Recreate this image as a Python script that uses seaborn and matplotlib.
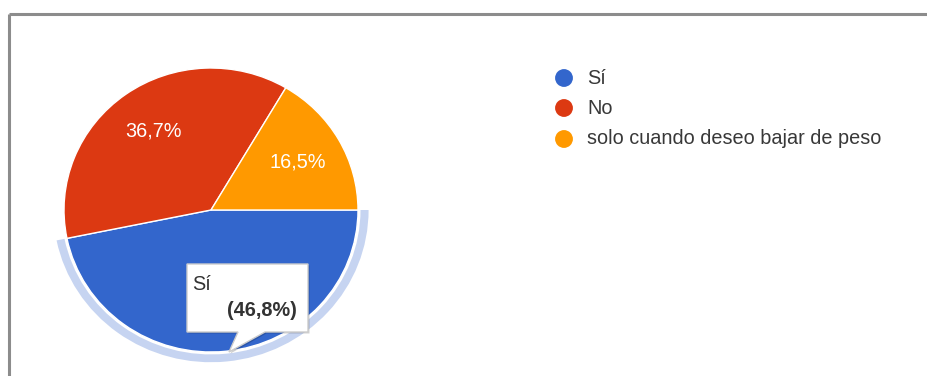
import matplotlib
matplotlib.use("Agg")
import matplotlib.pyplot as plt
import numpy as np
import seaborn as sns
from matplotlib.patches import Wedge, Polygon

# Survey answers and their shares (%)
categories = ["Sí", "No", "solo cuando deseo bajar de peso"]
shares = [46.8, 36.7, 16.5]
pct_labels = ["46,8%", "36,7%", "16,5%"]
hex_colors = ["#3366cc", "#dc3912", "#ff9900"]

sns.set_theme(style="white")
plt.rcParams["font.family"] = ["Liberation Sans", "DejaVu Sans"]
palette = sns.color_palette(hex_colors)

W, H = 927, 376
fig = plt.figure(figsize=(W / 100, H / 100), dpi=100)
fig.patch.set_facecolor("white")

# Background layer in pixel coordinates (origin top-left)
bg = fig.add_axes([0, 0, 1, 1])
bg.set_xlim(0, W)
bg.set_ylim(H, 0)
bg.axis("off")

# Panel border (top and left)
frame_col = "#8c8c8c"
bg.plot([9, W], [14, 14], color=frame_col, lw=2.2, solid_capstyle="butt")
bg.plot([9, 9], [14, H], color=frame_col, lw=2.2, solid_capstyle="butt")

# Pie chart axes
cx, cy, rx, ry = 211, 210, 147, 142
pad = 1.15
pie_ax = fig.add_axes([(cx - pad * rx) / W, (H - cy - pad * ry) / H,
                       2 * pad * rx / W, 2 * pad * ry / H])
wedges, _ = pie_ax.pie(shares, colors=palette, startangle=0, counterclock=False,
                       radius=1.0,
                       wedgeprops=dict(edgecolor="white", linewidth=1.0))
pie_ax.set_aspect("auto")
pie_ax.set_xlim(-pad, pad)
pie_ax.set_ylim(-pad, pad)
pie_ax.axis("off")
pie_ax.patch.set_alpha(0)

# Highlight ring around the hovered slice
hw = wedges[0]
ring = Wedge((0, 0), 1.072, hw.theta1, hw.theta2, width=0.055,
             facecolor="#c6d4f1", edgecolor="none")
pie_ax.add_patch(ring)

# Percentage labels inside the slices
fs = 14.3
for i in (1, 2):
    w = wedges[i]
    ang = np.deg2rad((w.theta1 + w.theta2) / 2)
    pie_ax.text(0.68 * np.cos(ang), 0.68 * np.sin(ang), pct_labels[i],
                ha="center", va="center", color="white", fontsize=fs)

# Legend
leg_y = [78, 108, 139]
bg.scatter([564] * 3, leg_y, s=165, c=palette, edgecolors="none")
for y, name in zip(leg_y, categories):
    bg.text(587, y, name, ha="left", va="center", fontsize=fs, color="#383838")

# Tooltip layer
top = fig.add_axes([0, 0, 1, 1])
top.set_xlim(0, W)
top.set_ylim(H, 0)
top.axis("off")
top.patch.set_alpha(0)

tip = [(187, 264), (308, 264), (308, 332), (265, 332), (229, 352),
       (238, 332), (187, 332)]
shadow = Polygon([(x + 1.5, y + 1.5) for x, y in tip], closed=True,
                 facecolor="#000000", alpha=0.18, edgecolor="none")
top.add_patch(shadow)
top.add_patch(Polygon(tip, closed=True, facecolor="white",
                      edgecolor="#cccccc", linewidth=1.0))
top.text(192, 285, categories[0], ha="left", va="center",
         fontsize=fs, color="#333333")
top.text(297, 311, f"({pct_labels[0]})", ha="right", va="center",
         fontsize=fs, fontweight="bold", color="#333333")

fig.savefig("out.png", dpi=100, facecolor="white")
